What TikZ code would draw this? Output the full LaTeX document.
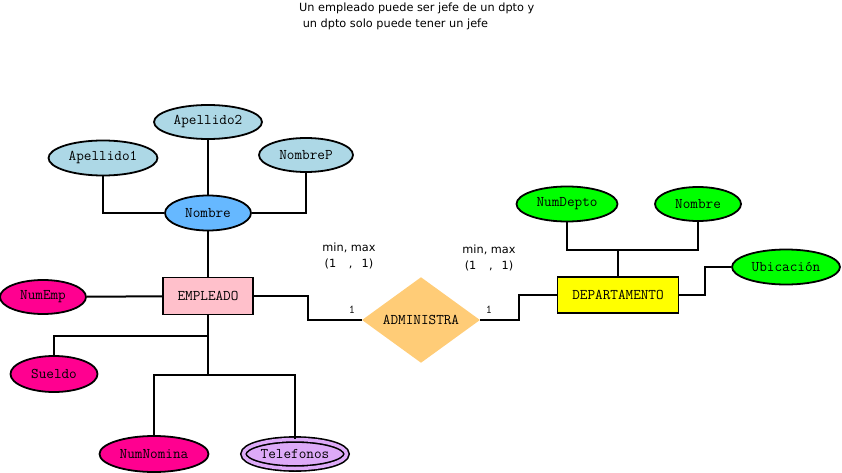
\documentclass[tikz,border=0pt]{standalone}
\usepackage{fontspec}
\setsansfont{DejaVu Sans}
\usetikzlibrary{shapes.geometric}
\definecolor{azul}{HTML}{ADD8E6}
\definecolor{azulfuerte}{HTML}{66B8FF}
\definecolor{rosa}{HTML}{FFC0CB}
\definecolor{fucsia}{HTML}{FF0090}
\definecolor{verde}{HTML}{00FF00}
\definecolor{amarillo}{HTML}{FFFF00}
\definecolor{naranja}{HTML}{FFCC77}
\definecolor{lila}{HTML}{DDAAF8}
\begin{document}
\begin{tikzpicture}[x=1pt,y=-1pt,
    every node/.style = {font=\ttfamily\fontsize{14.8}{16}\selectfont, inner sep=0pt},
    atrib/.style = {ellipse, draw, line width=1.8pt},
    entidad/.style = {rectangle, draw, line width=1.8pt},
    nota/.style = {font=\sffamily\fontsize{11.3}{16}\selectfont, align=left},
    linea/.style = {line width=2pt}]
  \useasboundingbox (0,0) rectangle (842,473);
  % empleado
  \node[atrib, fill=azul, minimum width=108, minimum height=34] (ape2) at (208,122) {Apellido2};
  \node[atrib, fill=azul, minimum width=109, minimum height=35] (ape1) at (103,158) {Apellido1};
  \node[atrib, fill=azul, minimum width=94, minimum height=34] (nomp) at (306,155) {NombreP};
  \node[atrib, fill=azulfuerte, minimum width=86, minimum height=35] (nombre) at (208,213) {Nombre};
  \node[entidad, fill=rosa, minimum width=90, minimum height=37] (emp) at (208,296) {EMPLEADO};
  \node[atrib, fill=fucsia, minimum width=86, minimum height=34] (numemp) at (43,297) {NumEmp};
  \node[atrib, fill=fucsia, minimum width=87, minimum height=36] (sueldo) at (54,374) {Sueldo};
  \node[atrib, fill=fucsia, minimum width=109, minimum height=36] (numnom) at (154,454) {NumNomina};
  \node[atrib, fill=lila, double=lila, double distance=3.5pt, line width=1.6pt,
        minimum width=103, minimum height=29] (tel) at (295,454) {Telefonos};
  % relacion
  \node[diamond, fill=naranja, minimum width=118, minimum height=72] (admin) at (421,320) {ADMINISTRA};
  \node[font=\ttfamily\fontsize{12}{12}\selectfont] (c1) at (352,310) {1};
  \node[font=\ttfamily\fontsize{12}{12}\selectfont] (c2) at (489,310) {1};
  \node[nota, align=center] (mm1) at (349,256) {min, max\\(1 \ \, ,\ \, 1)};
  \node[nota, align=center] (mm2) at (489,258) {min, max\\(1 \ \, ,\ \, 1)};
  % departamento
  \node[entidad, fill=amarillo, minimum width=121, minimum height=36] (dep) at (618,295) {DEPARTAMENTO};
  \node[atrib, fill=verde, minimum width=101, minimum height=35] (numdep) at (567,204) {NumDepto};
  \node[atrib, fill=verde, minimum width=86, minimum height=34] (nomdep) at (698,204) {Nombre};
  \node[atrib, fill=verde, minimum width=108, minimum height=35] (ubic) at (786,267) {Ubicación};
  \node[nota, anchor=north west] (titulo) at (299,3) {Un empleado puede ser jefe de un dpto y\\\ un dpto solo puede tener un jefe};
  % lineas
  \draw[linea] (ape2) -- (nombre);
  \draw[linea] (ape1.south) |- (nombre.west);
  \draw[linea] (nomp.south) |- (nombre.east);
  \draw[linea] (nombre) -- (emp);
  \draw[linea] (numemp) -- (emp);
  \draw[linea] (emp.south) -- (208,375) coordinate (j2);
  \draw[linea] (208,336) -| (sueldo.north);
  \draw[linea] (numnom.north) |- (j2) -| (tel.north);
  \draw[linea] (emp.east) -| (308,320) -- (admin.west);
  \draw[linea] (admin.east) -| (519,295) -- (dep.west);
  \draw[linea] (dep.east) -| (705,267) -- (ubic.west);
  \draw[linea] (numdep.south) |- (618,250) coordinate (j3) -| (nomdep.south);
  \draw[linea] (j3) -- (dep.north);
\end{tikzpicture}
\end{document}
